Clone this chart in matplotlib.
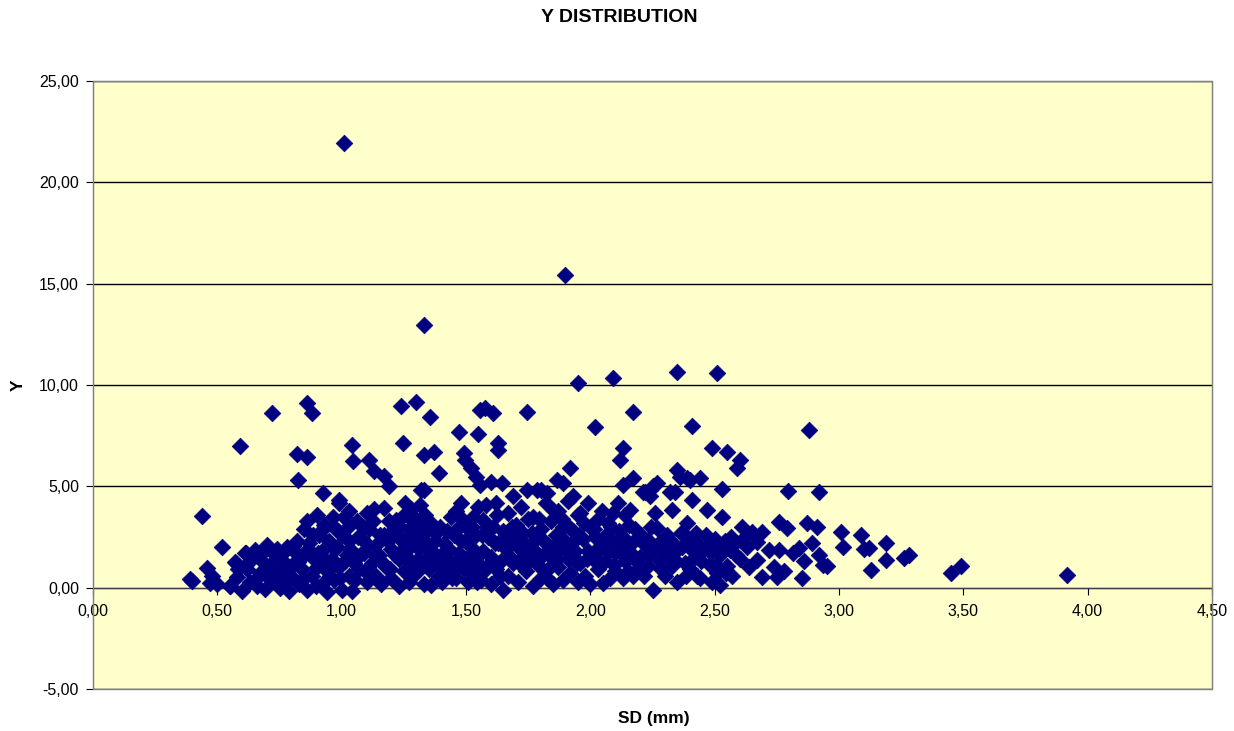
import matplotlib
matplotlib.use("Agg")
import matplotlib.pyplot as plt
from matplotlib.patches import Rectangle
from matplotlib.ticker import FuncFormatter, MultipleLocator

plt.rcParams['font.family'] = ['Liberation Sans', 'DejaVu Sans']

# points, grouped roughly by SD band
sd_low = [0.39, 0.40, 0.44, 0.46, 0.47, 0.48, 0.50, 0.52, 0.55, 0.575, 0.615,
          0.55, 0.57, 0.58, 0.60, 0.61, 0.62, 0.63, 0.64, 0.65,
          0.66, 0.67, 0.68, 0.69, 0.70, 0.71, 0.72, 0.73, 0.74, 0.75, 0.75,
          0.76, 0.77, 0.78, 0.79, 0.80, 0.80, 0.81, 0.82, 0.83, 0.84, 0.84, 0.85, 0.86, 0.86,
          0.87, 0.88, 0.89, 0.90, 0.90, 0.91, 0.92, 0.92, 0.93, 0.94, 0.94, 0.95,
          0.96, 0.97, 0.97, 0.98, 0.99, 0.99, 1.00, 1.00, 1.01, 1.02, 1.03, 1.03, 1.04, 1.05,
          1.06, 1.07, 1.08, 1.09, 1.10, 1.10, 1.11, 1.12, 1.13, 1.14, 1.14, 1.15,
          1.16, 1.17, 1.17, 1.18, 1.19, 1.20, 1.20, 1.21, 1.22, 1.23, 1.23, 1.24, 1.25, 1.25,
          1.26, 1.27, 1.27, 1.28, 1.28, 1.29, 1.30, 1.30, 1.31, 1.32, 1.32, 1.33, 1.33, 1.34, 1.34, 1.35,
          1.36, 1.36, 1.37, 1.38, 1.39, 1.40, 1.41, 1.42, 1.43, 1.44, 1.45, 1.45]
y_low = [0.45, 0.35, 3.52, 0.95, 0.25, 0.60, 0.20, 2.00, 0.06, 1.23, 1.72,
         0.10, 1.25, 0.55, -0.15, 1.70, 0.90, 0.30, 1.50, 1.85,
         0.10, 0.70, 1.30, -0.05, 2.10, 1.00, 0.40, 1.60, 1.90, 0.75, 0.00,
         1.35, 0.30, 2.00, -0.15, 1.10, 0.55, 1.80, 2.30, 0.20, 0.90, 1.50, 2.90, -0.10, 3.30,
         2.20, 0.60, 1.40, 3.60, 1.00, 2.60, 0.20, 1.80, 3.10, -0.20, 0.80, 2.30,
         1.40, 3.00, 0.40, 2.00, 4.20, 1.00, -0.10, 2.60, 3.50, 1.60, 0.60, 2.30, -0.15, 1.20,
         3.30, 0.90, 2.40, 1.70, 3.70, 0.30, 2.90, 1.20, 3.90, 0.60, 2.10, 1.60,
         0.20, 2.60, 3.95, 1.00, 3.30, 1.90, 0.50, 2.90, 3.35, 1.40, 0.10, 2.40, 3.60, 0.80,
         1.80, 2.90, 0.30, 3.90, 1.30, 2.20, 0.70, 3.40, 1.90, 2.60, 4.80, 0.20, 3.00, 1.40, 2.20, 0.90,
         0.15, 3.20, 1.70, 2.70, 0.60, 1.30, 2.20, 0.80, 1.90, 3.50, 1.10, 2.60]

sd_mid = [1.46, 1.46, 1.47, 1.48, 1.48, 1.49, 1.50, 1.50, 1.51, 1.52, 1.53, 1.53, 1.54, 1.55, 1.55,
          1.56, 1.57, 1.57, 1.58, 1.58, 1.59, 1.60, 1.60, 1.61, 1.62, 1.62, 1.63, 1.64, 1.65, 1.65,
          1.66, 1.67, 1.67, 1.68, 1.69, 1.69, 1.70, 1.71, 1.71, 1.72, 1.73, 1.73, 1.74, 1.75,
          1.76, 1.77, 1.77, 1.78, 1.79, 1.80, 1.80, 1.81, 1.82, 1.83, 1.83, 1.84, 1.85, 1.85,
          1.86, 1.87, 1.87, 1.88, 1.89, 1.89, 1.90, 1.91, 1.91, 1.92, 1.93, 1.93, 1.94, 1.95, 1.95,
          1.96, 1.96, 1.97, 1.98, 1.99, 1.99, 2.00, 2.00, 2.01, 2.02, 2.03, 2.03, 2.04, 2.05, 2.05,
          2.06, 2.07, 2.08, 2.08, 2.09, 2.10, 2.10, 2.11, 2.12, 2.13, 2.13, 2.14, 2.14, 2.15]
y_mid = [3.80, 0.50, 1.70, 4.20, 2.30, 0.90, 3.00, 1.40, 0.30, 2.00, 3.50, 0.70, 2.60, 1.20, 4.00,
         0.40, 3.35, 1.80, 0.90, 4.10, 2.50, 0.20, 1.50, 3.00, 4.20, 0.90, 2.20, 1.30, -0.10, 2.80,
         1.90, 3.70, 0.60, 2.40, 4.50, 1.20, 3.10, 0.30, 2.00, 4.00, 1.50, 2.70, 0.80, 3.40,
         1.90, 3.50, 0.10, 2.40, 1.10, 0.50, 2.90, 1.60, 4.20, 2.10, 0.90, 3.30, 1.40, 0.20,
         2.60, 3.80, 1.00, 1.90, 0.40, 3.00, 2.30, 4.30, 1.40, 0.70, 4.50, 2.80, 1.80, 3.60, 0.30,
         3.70, 1.20, 2.40, 0.60, 4.20, 1.80, 3.00, 0.20, 1.50, 2.50, 0.90, 3.40, 1.90, 0.25, 2.20,
         1.30, 3.20, 0.50, 2.40, 3.70, 1.70, 0.80, 4.20, 2.10, 0.50, 2.50, 1.30, 3.60, 0.80]

sd_right = [2.16, 2.16, 2.17, 2.18, 2.19, 2.20, 2.21, 2.22, 2.23, 2.23, 2.24, 2.25, 2.25, 2.26,
            2.27, 2.28, 2.29, 2.30, 2.31, 2.32, 2.33, 2.33, 2.34, 2.35, 2.35,
            2.37, 2.38, 2.39, 2.39, 2.40, 2.41, 2.42, 2.43, 2.43, 2.44, 2.45,
            2.47, 2.47, 2.48, 2.49, 2.50, 2.51, 2.52, 2.52, 2.53, 2.54, 2.55,
            2.56, 2.57, 2.58, 2.60, 2.61, 2.62, 2.63, 2.64, 2.65,
            2.67, 2.67, 2.69, 2.69, 2.72, 2.74, 2.75, 2.76, 2.76, 2.78, 2.79,
            2.815, 2.84, 2.85, 2.86, 2.87, 2.89, 2.91, 2.92, 2.935, 2.95,
            3.01, 3.015, 3.09, 3.10, 3.12, 3.13, 3.19, 3.19, 3.26, 3.28, 3.45, 3.49, 3.915]
y_right = [1.75, 3.85, 0.60, 2.90, 0.90, 1.50, 4.70, 2.10, 1.05, 2.35, 4.50, -0.10, 1.80, 3.70,
           2.95, 1.30, 2.00, 0.60, 2.60, 1.60, 3.85, 1.05, 4.70, 1.85, 0.30,
           2.00, 1.20, 2.50, 3.20, 0.90, 4.35, 1.50, 2.20, 0.60, 0.50, 1.80,
           2.00, 3.85, 1.10, 0.30, 2.40, 0.70, 0.15, 1.60, 3.50, 2.30, 1.05,
           1.87, 0.60, 2.20, 1.40, 3.00, 2.50, 2.00, 1.00, 2.75,
           2.27, 1.38, 2.76, 0.54, 1.87, 1.00, 0.54, 3.26, 1.87, 0.80, 2.96,
           1.73, 1.97, 0.49, 1.30, 3.20, 2.20, 3.00, 1.60, 1.13, 1.05,
           2.76, 2.02, 2.60, 1.90, 1.97, 0.89, 2.22, 1.38, 1.48, 1.63, 0.74, 1.05, 0.64]

# points hidden inside the dense cluster, estimated from its shading
sd_fill = [0.585, 0.625, 0.655, 0.685, 0.705, 0.725, 0.745, 0.765, 0.785, 0.805, 0.825, 0.845,
           0.865, 0.885, 0.895, 0.905, 0.925, 0.935, 0.955, 0.965, 0.975, 0.985, 0.995,
           1.015, 1.025, 1.035, 1.055, 1.065, 1.075, 1.085, 1.095, 1.105, 1.125, 1.135, 1.155,
           1.165, 1.185, 1.195, 1.215, 1.225, 1.235, 1.245, 1.255, 1.265, 1.275, 1.285, 1.295,
           1.305, 1.315, 1.325, 1.335, 1.345, 1.355, 1.375, 1.385, 1.395, 1.405, 1.415, 1.425,
           1.435, 1.445,
           1.465, 1.475, 1.485, 1.505, 1.515, 1.525, 1.535, 1.545, 1.565, 1.585, 1.595, 1.615,
           1.625, 1.635, 1.655, 1.675, 1.685, 1.705, 1.715, 1.735, 1.755, 1.765, 1.785, 1.795,
           1.815, 1.825, 1.845, 1.855, 1.865, 1.875, 1.885, 1.905, 1.915, 1.925, 1.945, 1.955,
           1.975, 1.985,
           2.015, 2.025, 2.035, 2.045, 2.065, 2.075, 2.085, 2.095, 2.115, 2.125, 2.145, 2.155,
           2.175, 2.185, 2.205, 2.215, 2.235, 2.245, 2.275, 2.285, 2.305, 2.325, 2.345, 2.365,
           2.385, 2.405, 2.425, 2.445, 2.465, 2.485, 2.505, 2.525, 2.545, 2.565, 2.585]
y_fill = [0.90, 1.20, 0.45, 1.75, 0.55, 1.25, 0.25, 1.70, 0.85, 2.05, 1.25, 0.45,
          1.90, 2.60, 0.10, 1.70, 2.90, 1.30, 0.60, 3.50, 1.90, 2.80, 0.50,
          1.30, 3.00, 1.90, 0.40, 2.50, 1.60, 3.00, 0.80, 2.10, 3.30, 1.60, 2.60,
          1.20, 2.30, 0.90, 1.60, 2.50, 3.00, 1.90, 4.20, 2.50, 1.20, 3.30, 2.70,
          1.40, 4.10, 1.20, 3.60, 2.80, 1.80, 2.30, 1.20, 3.00, 0.30, 1.80, 2.80,
          1.30, 0.50,
          2.90, 1.10, 3.40, 2.40, 1.10, 3.00, 1.70, 0.30, 2.60, 3.00, 1.20, 2.20,
          3.60, 0.60, 2.30, 1.50, 3.00, 2.50, 1.20, 2.20, 1.30, 2.70, 1.70, 3.40,
          2.30, 0.50, 1.90, 3.80, 1.40, 2.30, 3.40, 1.80, 3.00, 2.20, 1.20, 2.60,
          3.20, 1.40,
          2.90, 1.20, 2.00, 3.80, 2.60, 1.80, 3.00, 1.10, 2.80, 1.70, 2.20, 3.10,
          2.30, 1.30, 2.60, 0.60, 1.60, 3.00, 2.20, 0.90, 1.60, 2.30, 1.30, 2.70,
          0.60, 1.90, 2.70, 1.30, 2.60, 1.70, 1.10, 2.00, 0.70, 2.50, 1.60]

sd_high = [1.01, 1.90, 1.33,
           0.72, 0.86, 0.88, 0.59, 0.82, 0.86, 0.825, 0.925, 0.99, 1.03,
           1.04, 1.045, 1.11, 1.13, 1.17, 1.19, 1.24, 1.30, 1.355, 1.245, 1.33, 1.37, 1.39, 1.33,
           1.47, 1.49, 1.496, 1.52, 1.54, 1.55, 1.556, 1.576, 1.61, 1.63, 1.63, 1.60, 1.645, 1.556,
           1.745, 1.745, 1.785, 1.80, 1.825, 1.866, 1.89, 1.92, 1.95, 2.02, 2.09, 2.12, 2.13,
           2.13, 2.17, 2.17, 2.22, 2.24, 2.25, 2.27, 2.32, 2.35, 2.35, 2.36, 2.39, 2.40, 2.41,
           2.44, 2.49, 2.51, 2.53, 2.55, 2.59, 2.60, 2.795, 2.88, 2.92]
y_high = [21.95, 15.45, 12.95,
          8.63, 9.13, 8.63, 7.00, 6.60, 6.46, 5.33, 4.68, 4.34, 3.77,
          7.05, 6.27, 6.30, 5.75, 5.50, 5.00, 8.98, 9.18, 8.44, 7.15, 6.56, 6.70, 5.65, 4.83,
          7.70, 6.66, 6.30, 5.92, 5.48, 7.60, 5.08, 8.88, 8.63, 7.15, 6.80, 5.23, 5.18, 8.78,
          8.68, 4.83, 4.83, 4.83, 4.69, 5.30, 5.18, 5.90, 10.10, 7.94, 10.35, 6.30, 6.90,
          5.08, 8.68, 5.42, 4.74, 4.83, 5.00, 5.18, 4.74, 10.65, 5.82, 5.48, 5.42, 5.33, 7.99,
          5.42, 6.90, 10.60, 4.88, 6.70, 5.90, 6.30, 4.78, 7.79, 4.74]

sd_all = sd_low + sd_mid + sd_right + sd_fill + sd_high
y_all = y_low + y_mid + y_right + y_fill + y_high

fig = plt.figure(figsize=(12.34, 7.31), dpi=100)
ax = fig.add_axes([93 / 1234, 1 - 689 / 731, (1212 - 93) / 1234, (689 - 81) / 731])
ax.set_facecolor('#FFFFCC')

ax.set_xlim(0, 4.5)
ax.set_ylim(-5, 25)
ax.xaxis.set_major_locator(MultipleLocator(0.5))
ax.yaxis.set_major_locator(MultipleLocator(5))
fmt = FuncFormatter(lambda v, p: f"{v:.2f}".replace('.', ','))
ax.xaxis.set_major_formatter(fmt)
ax.yaxis.set_major_formatter(fmt)

ax.grid(axis='y', color='black', linewidth=1)
ax.set_axisbelow(True)

for s in ['top', 'right', 'left']:
    ax.spines[s].set_color('#808080')
ax.spines['bottom'].set_position(('data', 0))
ax.spines['bottom'].set_color('#404040')
ax.add_patch(Rectangle((0, 0), 1, 1, transform=ax.transAxes, fill=False,
                       edgecolor='#808080', linewidth=1, clip_on=False, zorder=5))

ax.tick_params(axis='both', labelsize=11.5, colors='black', length=5, direction='out')
ax.tick_params(axis='x', pad=7)
ax.tick_params(axis='y', pad=5)

ax.scatter(sd_all, y_all, marker='D', s=72, color='#000080', edgecolors='#000080',
           linewidths=0.5, zorder=3, clip_on=False)

fig.text(0.502, 1 - 18 / 731, 'Y DISTRIBUTION', ha='center', va='center',
         fontsize=14, fontweight='bold')
fig.text(654 / 1234, 1 - 718 / 731, 'SD (mm)', ha='center', va='center',
         fontsize=12.5, fontweight='bold')
fig.text(18 / 1234, 1 - 385 / 731, 'Y', ha='center', va='center', rotation=90,
         fontsize=12.5, fontweight='bold')

fig.savefig('out.png', dpi=100)
